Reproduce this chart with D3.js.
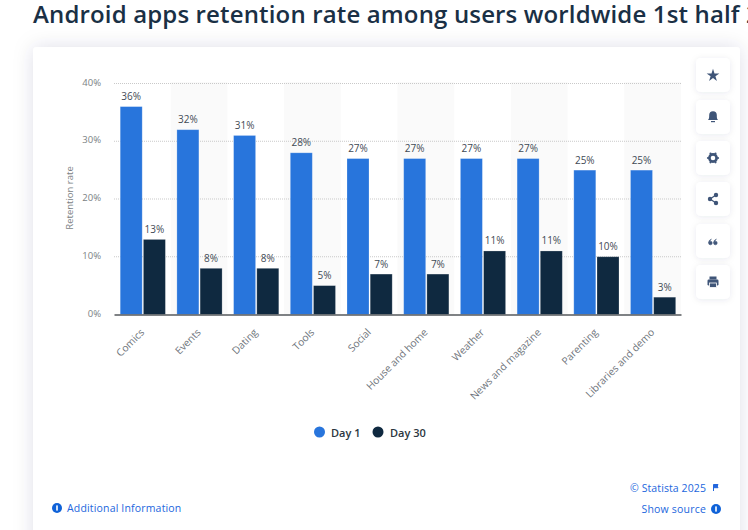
<!DOCTYPE html>
<html><head><meta charset="utf-8">
<script src="https://cdn.jsdelivr.net/npm/d3@7"></script>
<style>
html,body{margin:0;padding:0;background:#fff;overflow:hidden}
svg{display:block}
text{font-family:"Open Sans","Noto Sans",sans-serif}
</style></head><body><svg id="c" width="748" height="530"></svg>
<script>
const titleText = "Android apps retention rate among users worldwide 1st half 2";
const categories = ["Comics","Events","Dating","Tools","Social","House and home","Weather","News and magazine","Parenting","Libraries and demo"];
const day1 = [36,32,31,28,27,27,27,27,25,25];
const day30 = [13,8,8,5,7,7,11,11,10,3];
const seriesNames = ["Day 1","Day 30"];
const yTicks = [0,10,20,30,40];
const yLabel = "Retention rate";
const sourceLabels = ["© Statista 2025","Show source","Additional Information"];

const blue="#2875dc", navy="#0f2940", linkBlue="#2266dd";
const svg=d3.select("#c");
const defs=svg.append("defs");
const f=defs.append("filter").attr("id","sh").attr("x","-10%").attr("y","-15%").attr("width","120%").attr("height","130%");
f.append("feDropShadow").attr("dx",0).attr("dy",0).attr("stdDeviation",10).attr("flood-color","#1a2a50").attr("flood-opacity",0.13);
const f2=defs.append("filter").attr("id","sh2").attr("x","-30%").attr("y","-30%").attr("width","160%").attr("height","160%");
f2.append("feDropShadow").attr("dx",0).attr("dy",1).attr("stdDeviation",3).attr("flood-color","#1a2a50").attr("flood-opacity",0.09);

svg.append("rect").attr("width",748).attr("height",530).attr("fill","#fff");
svg.append("text").attr("x",33).attr("y",22.5).attr("font-size",24).attr("font-weight",600).attr("letter-spacing",0.15).attr("fill","#1a3045").text(titleText);
svg.append("rect").attr("x",33).attr("y",47).attr("width",707).attr("height",520).attr("rx",4).attr("fill","#fff").attr("filter","url(#sh)");

const x=d3.scaleBand().domain(categories).range([114,681]);
const y=d3.scaleLinear().domain([0,40]).range([314.5,83.5]);
const plotTop=82;
const g=svg.append("g");
// alternating band backgrounds
g.selectAll("rect.band").data(categories.filter((d,i)=>i%2===1)).join("rect")
 .attr("x",d=>x(d)).attr("y",plotTop).attr("width",x.bandwidth()).attr("height",y(0)-plotTop).attr("fill","#fafafa");
// grid
g.selectAll("line.grid").data(yTicks.filter(d=>d>0)).join("line")
 .attr("x1",114).attr("x2",681).attr("y1",d=>y(d)).attr("y2",d=>y(d))
 .attr("stroke","#c9c9c9").attr("stroke-width",1).attr("stroke-dasharray","1 1");
// y labels
const yAxis=d3.axisLeft(y).tickValues(yTicks).tickFormat(d=>d+"%").tickSize(0).tickPadding(13);
const ya=g.append("g").attr("transform","translate(114,-1.3)").call(yAxis);
ya.select(".domain").remove();
ya.selectAll("text").attr("font-size",9.5).attr("fill","#7b7f84").style("font-family",'"Open Sans",sans-serif');
svg.append("text").attr("transform","translate(72.8,198) rotate(-90)").attr("text-anchor","middle").attr("font-size",9.5).attr("fill","#7b7f84").text(yLabel);
// bars
const series=[day1,day30], colors=[blue,navy], off=[6.2,29.4], bw=22;
series.forEach((vals,s)=>{
  g.selectAll("rect.s"+s).data(vals).join("rect").attr("class","s"+s)
   .attr("x",(d,i)=>x(categories[i])+off[s]).attr("width",bw)
   .attr("y",d=>y(d)).attr("height",d=>y(0)-y(d)).attr("fill",colors[s])
   .attr("stroke","#fff").attr("stroke-opacity",0.28).attr("stroke-width",0.8);
  g.selectAll("text.l"+s).data(vals).join("text").attr("class","l"+s)
   .attr("x",(d,i)=>x(categories[i])+off[s]+bw/2).attr("y",d=>y(d)-6.5)
   .attr("text-anchor","middle").attr("font-size",10).attr("font-weight",500).attr("fill","#3f4a55").text(d=>d+"%");
});
// x axis
const xa=g.append("g").attr("transform","translate(0,314.5)").call(d3.axisBottom(x).tickSize(0).tickPadding(0));
xa.select(".domain").attr("stroke","#55585c").attr("stroke-width",1.4);
xa.selectAll("text").attr("font-size",10.2).attr("fill","#6f757c")
  .style("font-family",'"Open Sans",sans-serif')
  .attr("text-anchor","end").attr("dy",0)
  .attr("x",0).attr("y",0)
  .attr("transform",`translate(2.5,18.5) rotate(-45)`);
// legend
const lx=[319.5,378], tx=[331,390];
seriesNames.forEach((n,i)=>{
  svg.append("circle").attr("cx",lx[i]).attr("cy",432).attr("r",5.5).attr("fill",colors[i]);
  svg.append("text").attr("x",tx[i]).attr("y",437).attr("font-size",11).attr("font-weight",600).attr("fill","#2b3640").text(n);
});
// footer
svg.append("text").attr("x",706).attr("y",492).attr("text-anchor","end").attr("font-size",10.5).attr("fill",linkBlue).attr("letter-spacing",0.1).text(sourceLabels[0]);
svg.append("text").attr("x",706).attr("y",513).attr("text-anchor","end").attr("font-size",10.5).attr("fill",linkBlue).attr("letter-spacing",0.2).text(sourceLabels[1]);
svg.append("text").attr("x",67).attr("y",512).attr("font-size",10.5).attr("fill",linkBlue).attr("letter-spacing",0.17).text(sourceLabels[2]);
function info(cx,cy){
  svg.append("circle").attr("cx",cx).attr("cy",cy).attr("r",5).attr("fill","#0f62d8");
  svg.append("rect").attr("x",cx-0.8).attr("y",cy-2.6).attr("width",1.6).attr("height",5.2).attr("fill","#fff");
}
info(716,509); info(57,508);
svg.append("path").attr("d","M713.5 484.5v6.5M713.5 484.5h4.5l-0.7 1.6 0.7 1.6h-4.5").attr("fill",linkBlue).attr("stroke",linkBlue).attr("stroke-width",1);
// side buttons
const btnY=[58,100,141,182,224,265], ic="#3f5578";
btnY.forEach(b=>{
  svg.append("rect").attr("x",696).attr("y",b).attr("width",34).attr("height",34).attr("rx",5).attr("fill","#fff").attr("filter","url(#sh2)");
});
const cx=713;
svg.append("path").attr("transform",`translate(${cx},${btnY[0]+17.5})`).attr("d",d3.symbol(d3.symbolStar,50)()).attr("fill",ic);
// bell
svg.append("path").attr("d",`M${cx-5} ${btnY[1]+20}c1.2-1 1.2-3 1.2-5a3.8 3.8 0 0 1 7.6 0c0 2 0 4 1.2 5z`).attr("fill",ic);
svg.append("rect").attr("x",cx-2).attr("y",btnY[1]+21).attr("width",4).attr("height",1.2).attr("fill",ic);
// gear
svg.append("circle").attr("cx",cx).attr("cy",btnY[2]+17).attr("r",3.6).attr("fill","none").attr("stroke",ic).attr("stroke-width",2.6);
d3.range(6).forEach(i=>{
  const a=i*Math.PI/3;
  svg.append("circle").attr("cx",cx+5*Math.cos(a)).attr("cy",btnY[2]+17+5*Math.sin(a)).attr("r",1.1).attr("fill",ic);
});
// share
const sy=btnY[3]+17;
svg.append("path").attr("d",`M${cx+3} ${sy-4}L${cx-3} ${sy}L${cx+3} ${sy+4}`).attr("fill","none").attr("stroke",ic).attr("stroke-width",1.2);
[[3,-4],[-3,0],[3,4]].forEach(p=>svg.append("circle").attr("cx",cx+p[0]).attr("cy",sy+p[1]).attr("r",2.2).attr("fill",ic));
// quote
[-2.6,2.4].forEach(o=>{
  svg.append("path").attr("d",`M${cx+o-1.8} ${btnY[4]+19}a1.8 1.8 0 1 0 3.6 0a1.8 1.8 0 1 0-3.6 0M${cx+o-1.8} ${btnY[4]+19}q0-3 3-4`).attr("fill",ic).attr("stroke",ic).attr("stroke-width",0.6);
});
// printer
const py=btnY[5]+17;
svg.append("rect").attr("x",cx-5.5).attr("y",py-2.5).attr("width",11).attr("height",6).attr("rx",1.2).attr("fill",ic);
svg.append("rect").attr("x",cx-3.5).attr("y",py-5.5).attr("width",7).attr("height",3).attr("fill",ic);
svg.append("rect").attr("x",cx-3.5).attr("y",py+1).attr("width",7).attr("height",4.5).attr("fill",ic).attr("stroke","#fff").attr("stroke-width",0.8);
</script></body></html>
